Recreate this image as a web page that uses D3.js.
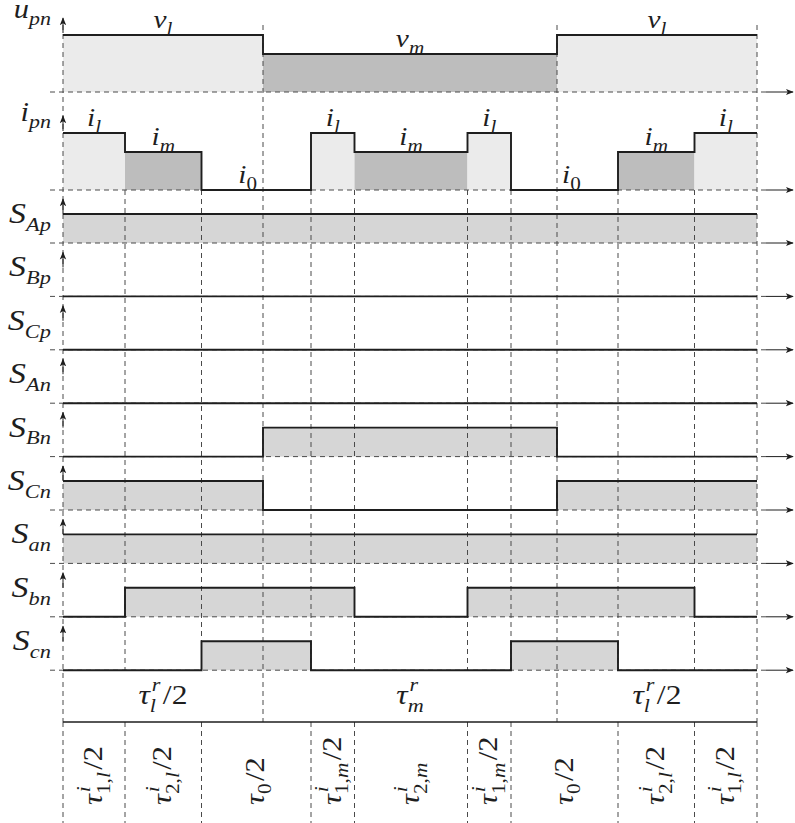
<!DOCTYPE html>
<html><head><meta charset="utf-8">
<script src="https://cdn.jsdelivr.net/npm/d3@7"></script>
<style>body{margin:0;background:#fff}</style>
</head><body>
<svg id="chart" width="795" height="823"></svg>
<script>
// ---------------- data ----------------
const breakpoints = [0, 62, 138.5, 200, 248, 291.5, 404.5, 448, 494, 555, 631.5, 694];
const majorTimes = [0, 200, 494, 694];
const minorTimes = [0, 62, 138.5, 248, 291.5, 404.5, 448, 555, 631.5, 694];
const levelValues = {l: 1, m: 0.667, "0": 0};
const upnLevels = ["l","l","l","m","m","m","m","m","l","l","l"];
const ipnLevels = ["l","m","0","0","l","m","l","0","0","m","l"];
const switchNames = ["Ap","Bp","Cp","An","Bn","Cn","an","bn","cn"];
const switchStates = [
  [1,1,1,1,1,1,1,1,1,1,1],
  [0,0,0,0,0,0,0,0,0,0,0],
  [0,0,0,0,0,0,0,0,0,0,0],
  [0,0,0,0,0,0,0,0,0,0,0],
  [0,0,0,1,1,1,1,1,0,0,0],
  [1,1,1,0,0,0,0,0,1,1,1],
  [1,1,1,1,1,1,1,1,1,1,1],
  [0,1,1,1,1,0,1,1,1,1,0],
  [0,0,1,1,0,0,0,1,1,0,0]
];
const majorLabels = [
  {base:"τ", sup:"r", sub:"l", tail:"/2"},
  {base:"τ", sup:"r", sub:"m", tail:""},
  {base:"τ", sup:"r", sub:"l", tail:"/2"}
];
const minorLabels = [
  {base:"τ", sup:"i", sub:"1,l", tail:"/2"},
  {base:"τ", sup:"i", sub:"2,l", tail:"/2"},
  {base:"τ", sup:"",  sub:"0",   tail:"/2"},
  {base:"τ", sup:"i", sub:"1,m", tail:"/2"},
  {base:"τ", sup:"i", sub:"2,m", tail:""},
  {base:"τ", sup:"i", sub:"1,m", tail:"/2"},
  {base:"τ", sup:"",  sub:"0",   tail:"/2"},
  {base:"τ", sup:"i", sub:"2,l", tail:"/2"},
  {base:"τ", sup:"i", sub:"1,l", tail:"/2"}
];

// ---------------- layout ----------------
const svg = d3.select("#chart");
const FONT = "'Liberation Serif','DejaVu Serif',serif";
const K = 1.13; // horizontal widening to mimic Computer Modern proportions
const x = d3.scaleLinear().domain([0, 694]).range([63, 757]);
const INK = "#1e1e1e", DASH = "#4a4a4a";
const fills = {l: "#ebebeb", m: "#bdbdbd", s: "#d6d6d6"};

const rows = [];
rows.push({kind:"upn", base:92, amp:57, name:"u", sub:"pn", levels: upnLevels.map(d=>levelValues[d]), keys: upnLevels});
rows.push({kind:"ipn", base:190, amp:57, name:"i", sub:"pn", levels: ipnLevels.map(d=>levelValues[d]), keys: ipnLevels});
switchNames.forEach((n,i)=>rows.push({kind:"sw", base:243 + i*53.4, amp:29, name:"S", sub:n, levels: switchStates[i], keys: switchStates[i].map(()=>"s")}));

function addRuns(t, str){
  const runs = str.match(/[A-Za-zτ]+|[^A-Za-zτ]+/g) || [];
  runs.forEach(r=>{
    t.append("tspan").attr("font-style", /[A-Za-zτ]/.test(r) ? "italic" : "normal").text(r);
  });
}
function mathLabel(parent, spec, size, subRatio){
  const ss = size*(subRatio || 0.7);
  const t = parent.append("text").attr("font-family",FONT).attr("font-size",size).attr("fill",INK);
  addRuns(t, spec.base);
  let supW = 0, shift = 0, subW = 0;
  const supUp = size*0.46;
  if (spec.sup){
    const s = t.append("tspan").attr("font-size", ss).attr("dx", size*0.06).attr("dy", -supUp);
    addRuns(s, spec.sup);
    supW = s.node().getComputedTextLength() + size*0.06;
    shift = -supUp;
  }
  if (spec.sub){
    const d = spec.sup ? size*0.28 : size*0.26;
    const s = t.append("tspan").attr("font-size", ss).attr("dx", -supW).attr("dy", d - shift);
    addRuns(s, spec.sub);
    subW = s.node().getComputedTextLength();
    shift = d;
  }
  if (spec.tail){
    const extra = Math.max(0, supW - subW);
    const s = t.append("tspan").attr("dx", extra + size*0.08).attr("dy", -shift);
    addRuns(s, spec.tail);
  }
  const bb = t.node().getBBox();
  return {t, bb};
}
// place a label horizontally (align: start | middle | end) at baseline y
function place(lab, ax, y, align){
  const left = lab.bb.x * K, w = lab.bb.width * K;
  let tx = align === "end" ? ax - (left + w) : align === "middle" ? ax - left - w/2 : ax - left;
  lab.t.attr("transform", `translate(${tx},${y}) scale(${K},1)`);
}

// defs arrow
const defs = svg.append("defs");
defs.append("marker").attr("id","arr").attr("viewBox","0 0 10 10").attr("refX",9).attr("refY",5)
  .attr("markerWidth",8).attr("markerHeight",8).attr("markerUnits","userSpaceOnUse").attr("orient","auto")
  .append("path").attr("d","M0,1 L10,5 L0,9 L2.5,5 Z").attr("fill",INK);

const gFill = svg.append("g"), gDash = svg.append("g"), gLine = svg.append("g"), gText = svg.append("g");

function groupRuns(keys, levels){
  const groups = [];
  keys.forEach((k,i)=>{
    const last = groups[groups.length-1];
    if (last && last.k === k && last.v === levels[i]) last.end = i+1;
    else groups.push({k, v: levels[i], start:i, end:i+1});
  });
  return groups;
}

rows.forEach(row=>{
  const y = d3.scaleLinear().domain([0,1]).range([row.base, row.base - row.amp]);
  row.y = y;
  row.groups = groupRuns(row.keys, row.levels);
  // fills
  gFill.selectAll(null).data(row.groups.filter(d=>d.v>0))
    .enter().append("rect")
    .attr("x", d=>x(breakpoints[d.start])).attr("width", d=>x(breakpoints[d.end]) - x(breakpoints[d.start]))
    .attr("y", d=>y(d.v)).attr("height", d=>y(0)-y(d.v))
    .attr("fill", d=>fills[d.k]);
  // dashed baseline + arrow
  gDash.append("line").attr("x1",50).attr("x2",766).attr("y1",row.base).attr("y2",row.base)
    .attr("stroke",DASH).attr("stroke-width",1).attr("stroke-dasharray","5,4");
  gLine.append("line").attr("x1",766).attr("x2",793).attr("y1",row.base).attr("y2",row.base)
    .attr("stroke",INK).attr("stroke-width",1).attr("marker-end","url(#arr)");
  // vertical arrow at axis
  const tip = row.kind === "sw" ? row.base - 44 : row.base - 74;
  gLine.append("line").attr("x1",x(0)).attr("x2",x(0)).attr("y1",tip+15).attr("y2",tip)
    .attr("stroke",INK).attr("stroke-width",1).attr("marker-end","url(#arr)");
  // signal step line
  const pts = row.levels.map((v,i)=>[breakpoints[i], v]);
  pts.push([breakpoints[breakpoints.length-1], row.levels[row.levels.length-1]]);
  gLine.append("path").attr("d", d3.line().x(d=>x(d[0])).y(d=>y(d[1])).curve(d3.curveStepAfter)(pts))
    .attr("fill","none").attr("stroke",INK).attr("stroke-width",1.9);
  // row label
  const size = row.kind === "sw" ? 30 : 27;
  const lab = mathLabel(gText, {base:row.name, sub:row.sub}, size, row.kind === "sw" ? 0.66 : 0.72);
  const ly = row.kind === "sw" ? row.base - 20 : (row.kind === "upn" ? 18 : 121);
  place(lab, 51, ly, "end");
});

// value labels above u_pn / i_pn
[rows[0], rows[1]].forEach(row=>{
  const sym = row.kind === "upn" ? "v" : "i";
  row.groups.forEach(gp=>{
    const t0 = breakpoints[gp.start], t1 = breakpoints[gp.end];
    const lab = mathLabel(gText, {base:sym, sub:gp.k}, 26, 0.72);
    const yy = row.y(levelValues[gp.k]) - 7;
    if (gp.k === "0"){
      const mj = majorTimes.find(t=>t>t0 && t<t1);
      if (mj < 347) place(lab, x(mj) - 6, yy, "end"); else place(lab, x(mj) + 5, yy, "start");
    } else {
      place(lab, (x(t0) + x(t1))/2, yy, "middle");
    }
  });
});

// vertical dashed guide lines
const lastBase = rows[rows.length-1].base; // 670
const sepY = 722;
function vdash(xx, y1, y2){
  gDash.append("line").attr("x1",xx).attr("x2",xx).attr("y1",y1).attr("y2",y2)
    .attr("stroke",DASH).attr("stroke-width",1).attr("stroke-dasharray","5,4");
}
majorTimes.forEach(t=>vdash(x(t), 25, sepY));
breakpoints.filter(t=>!majorTimes.includes(t)).forEach(t=>vdash(x(t), rows[1].base, lastBase));
minorTimes.forEach(t=>vdash(x(t), sepY, 823));

// separator line
gLine.append("line").attr("x1",x(0)).attr("x2",x(694)).attr("y1",sepY).attr("y2",sepY)
  .attr("stroke",INK).attr("stroke-width",1.5);

// major interval labels
majorLabels.forEach((spec,i)=>{
  const lab = mathLabel(gText, spec, 28, 0.7);
  const cx = (x(majorTimes[i]) + x(majorTimes[i+1]))/2;
  place(lab, cx, 704, "middle");
});
// minor interval labels (rotated, reading bottom to top)
minorLabels.forEach((spec,i)=>{
  const lab = mathLabel(gText, spec, 27, 0.7);
  const cx = (x(minorTimes[i]) + x(minorTimes[i+1]))/2;
  lab.t.attr("transform", `translate(${cx + 8},805) rotate(-90) scale(${K},1)`);
});
</script>
</body></html>
